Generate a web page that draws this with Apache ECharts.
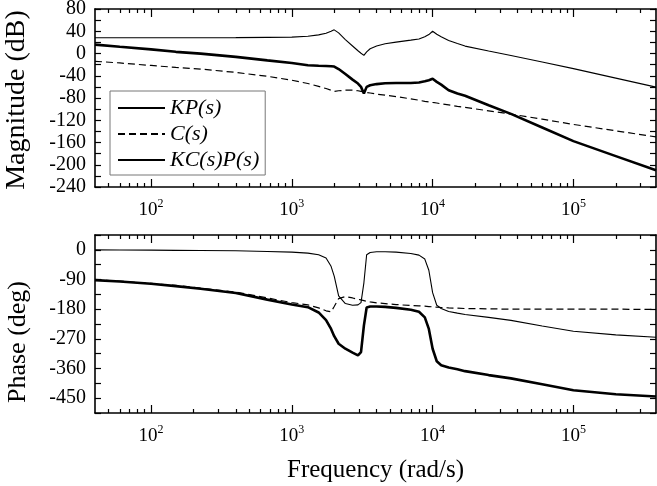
<!DOCTYPE html>
<html>
<head>
<meta charset="utf-8">
<script src="https://cdn.jsdelivr.net/npm/echarts@6/dist/echarts.min.js"></script>
<style>
html, body { margin: 0; padding: 0; background: #fff; }
#chart { width: 657px; height: 486px; }
</style>
</head>
<body>
<div id="chart"></div>
<script>
// frequency points (rad/s)
const freq = [40, 60, 100, 150, 225, 400, 670, 1000, 1300, 1550,
              1750, 1900, 2000, 2150, 2400, 2700, 2950, 3100, 3250, 3400,
              3600, 4000, 4600, 5500, 7000, 8000, 8800, 9400, 10000, 10700,
              11500, 13000, 15000, 17000, 25000, 36000, 60000, 100000, 200000, 386000];

// magnitude (dB)
const magKP = [28.4, 28.4, 28.4, 28.4, 28.4, 28.5, 29, 29.5, 31, 33.5,
               36.5, 40, 42.5, 37, 25, 13.5, 4.9, 0.5, -3.3, 3,
               8.5, 13.5, 17.6, 20.5, 24, 26, 30, 34, 40, 34.5,
               30, 23.5, 18, 13.3, 4.6, -3.5, -15.3, -27.2, -44.3, -60.5];
const magC = [-14, -17, -21.5, -25, -28, -34, -41, -48, -54, -59,
              -63, -66, -68, -67, -66, -66, -67, -68, -69, -70,
              -71, -73, -75, -77.5, -81.5, -84, -86, -87, -88, -89,
              -90.5, -92.5, -95, -97, -103, -109, -118, -127.5, -139, -150];
const magKCP = [16, 12, 7.4, 3, -0.3, -6, -12.3, -17, -21, -22,
                -22.5, -23, -23.5, -28, -37, -47, -54, -60, -72, -60,
                -57, -55, -53.5, -53, -53, -52, -50, -48, -45.5, -51,
                -56, -66, -72, -76, -93, -108.5, -133, -157.5, -184.5, -210];

// phase (deg)
const phKP = [0, -0.5, -1, -1.5, -2, -3, -5, -7, -10, -15,
              -25, -50, -80, -140, -163, -168, -167, -160, -100, -15,
              -8, -6, -6, -7, -11, -16, -28, -62, -130, -168,
              -178, -187, -192, -196, -205, -214, -231, -247, -258, -265];
const phC = [-91, -95, -102, -108, -116, -128, -146, -160, -167, -176,
             -185, -188, -172, -148, -142, -146, -150, -152, -154, -156,
             -158, -161, -163, -166, -169, -170, -171, -172, -173, -174,
             -175, -176, -177, -178, -179, -180, -180, -180, -180, -181];
const phKCP = [-92, -96, -103, -110, -118, -131, -151, -166, -174, -190,
               -213, -240, -262, -285, -300, -312, -320, -310, -230, -175,
               -172, -172, -173, -176, -182, -188, -205, -240, -300, -338,
               -350, -357, -362, -368, -380, -390, -408, -426, -438, -445];

const seriesNames = ['KP(s)', 'C(s)', 'KC(s)P(s)'];
const decadeTicks = [100, 1000, 10000, 100000];
const minorTicks = [50, 60, 70, 80, 90,
                    200, 300, 400, 500, 600, 700, 800, 900,
                    2000, 3000, 4000, 5000, 6000, 7000, 8000, 9000,
                    20000, 30000, 40000, 50000, 60000, 70000, 80000, 90000,
                    200000, 300000];
const fMin = 40, fMax = 386000;

const font = 'Liberation Serif';
const chart = echarts.init(document.getElementById('chart'));

// 4 x axes per grid: bottom major/minor, top major/minor
function xAxes(gridIndex) {
    const list = [];
    ['bottom', 'top'].forEach(function (pos) {
        [decadeTicks, minorTicks].forEach(function (ticks, k) {
            list.push({
                type: 'log', logBase: 10, gridIndex: gridIndex, position: pos,
                min: fMin, max: fMax,
                axisLine: { show: k === 0, onZero: false, lineStyle: { color: '#000', width: 1.6 } },
                axisTick: { show: true, inside: true, length: k === 0 ? 8 : 4, customValues: ticks,
                            lineStyle: { color: '#000', width: 1.2 } },
                axisLabel: {
                    show: pos === 'bottom' && k === 0,
                    customValues: decadeTicks,
                    margin: 11,
                    color: '#000',
                    formatter: function (v) {
                        return '{b|10}{s|' + Math.round(Math.log10(v)) + '}';
                    },
                    rich: {
                        b: { fontFamily: font, fontSize: 19, color: '#000' },
                        s: { fontFamily: font, fontSize: 12, color: '#000', padding: [0, 0, 12, 0] }
                    }
                },
                splitLine: { show: false },
                minorTick: { show: false }
            });
        });
    });
    list[0].name = gridIndex === 1 ? 'Frequency (rad/s)' : '';
    list[0].nameLocation = 'middle';
    list[0].nameGap = 45;
    list[0].nameTextStyle = { fontFamily: font, fontSize: 25, color: '#000' };
    return list;
}

function yAxes(gridIndex, min, max, interval, labelStep, name, nameSize, namePad) {
    return ['left', 'right'].map(function (pos) {
        return {
            type: 'value', gridIndex: gridIndex, position: pos,
            min: min, max: max, interval: interval,
            name: pos === 'left' ? name : '',
            nameLocation: 'middle',
            nameGap: 64,
            nameTextStyle: { fontFamily: font, fontSize: nameSize, color: '#000', padding: namePad },
            axisLine: { show: true, onZero: false, lineStyle: { color: '#000', width: 1.6 } },
            axisTick: { show: true, inside: true, length: 6, lineStyle: { color: '#000', width: 1.2 } },
            axisLabel: {
                show: pos === 'left',
                margin: 9,
                fontFamily: font, fontSize: 20, color: '#000',
                formatter: function (v) { return v % labelStep === 0 ? String(v) : ''; }
            },
            splitLine: { show: false }
        };
    });
}

function toPairs(arr) {
    return freq.map(function (f, i) { return [f, arr[i]]; });
}

const styles = [
    { width: 1.1, type: 'solid' },
    { width: 1.2, type: [7, 4] },
    { width: 2.6, type: 'solid' }
];

function lineSeries(name, arr, xi, yi, st) {
    return {
        name: name, type: 'line', data: toPairs(arr),
        xAxisIndex: xi, yAxisIndex: yi,
        symbol: 'none', showSymbol: false,
        lineStyle: { color: '#000', width: st.width, type: st.type },
        itemStyle: { color: '#000' },
        emphasis: { disabled: true },
        z: 3
    };
}

const magData = [magKP, magC, magKCP];
const phData = [phKP, phC, phKCP];
const series = [];
seriesNames.forEach(function (n, i) {
    series.push(lineSeries(n, magData[i], 0, 0, styles[i]));
});
seriesNames.forEach(function (n, i) {
    series.push(lineSeries(n, phData[i], 4, 2, styles[i]));
});

chart.setOption({
    animation: false,
    backgroundColor: '#fff',
    grid: [
        { left: 95, right: 1, top: 9, height: 178, outerBoundsMode: 'none' },
        { left: 95, right: 1, top: 235, height: 178, outerBoundsMode: 'none' }
    ],
    legend: {
        data: seriesNames,
        orient: 'vertical',
        left: 110, top: 91,
        itemWidth: 47, itemHeight: 14, itemGap: 4,
        padding: [6, 6, 4, 7],
        borderColor: '#777', borderWidth: 1,
        backgroundColor: '#fff',
        selectedMode: false,
        itemStyle: { color: 'rgba(0,0,0,0)', borderWidth: 0, opacity: 0 },
        textStyle: { fontFamily: font, fontStyle: 'italic', fontSize: 22, color: '#000' }
    },
    xAxis: xAxes(0).concat(xAxes(1)),
    yAxis: yAxes(0, -240, 80, 20, 40, 'Magnitude (dB)', 28, [0, 4, 0, 0])
        .concat(yAxes(1, -495, 45, 45, 90, 'Phase (deg)', 26, [0, 36, 0, 0])),
    series: series
});
</script>
</body>
</html>
